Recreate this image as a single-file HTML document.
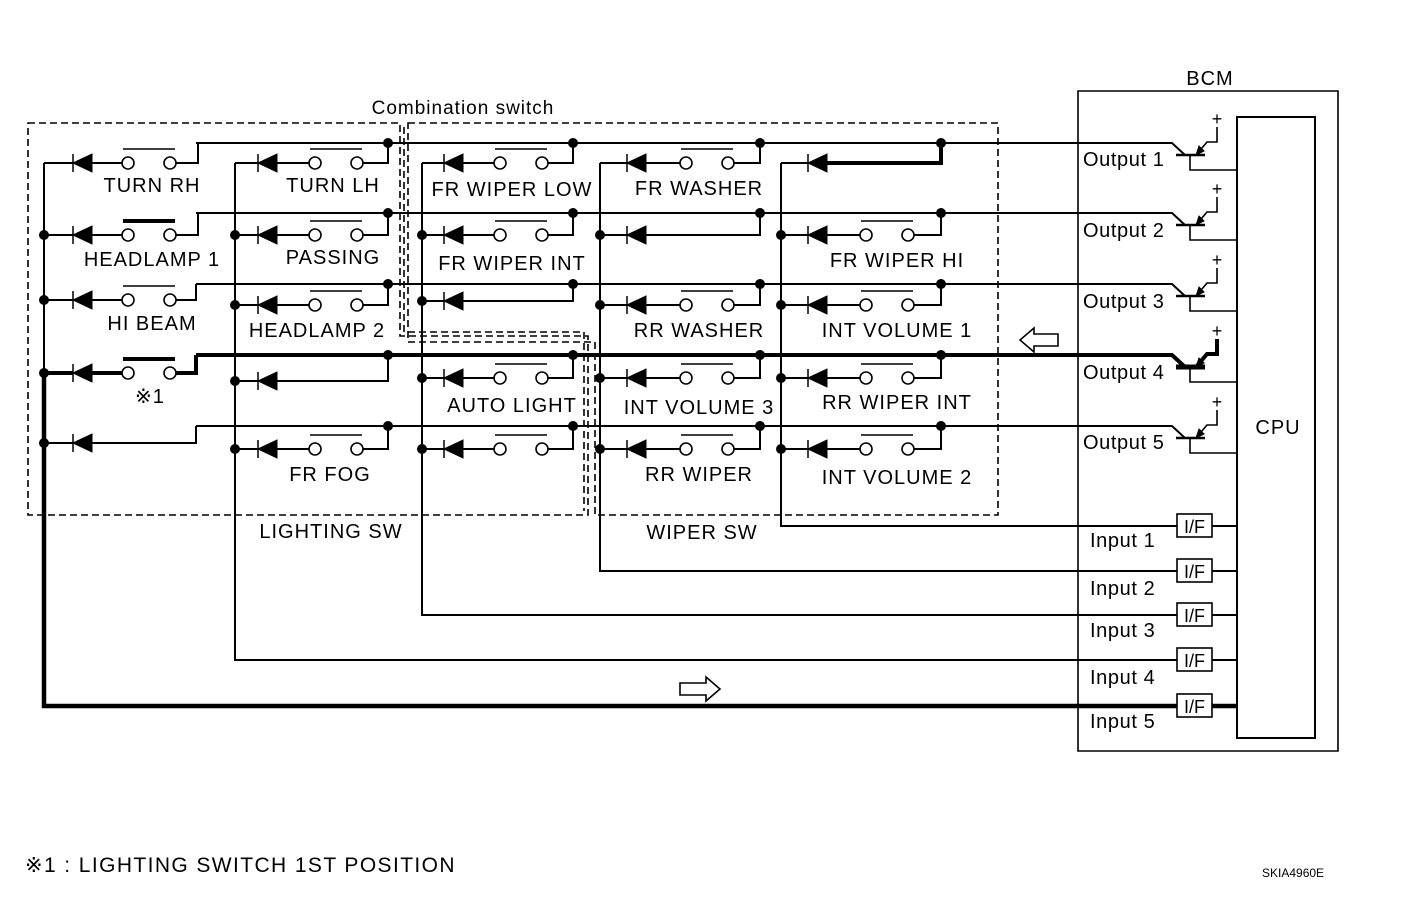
<!DOCTYPE html>
<html><head><meta charset="utf-8"><style>
html,body{margin:0;padding:0;background:#fff;}
svg{display:block;font-family:"Liberation Sans",sans-serif;}
</style></head><body>
<svg id="s" width="1408" height="902" viewBox="0 0 1408 902" xmlns="http://www.w3.org/2000/svg">
<g fill="none" stroke="#000" stroke-width="1.6" stroke-dasharray="7,4">
<path d="M28,123 H400 V336 H588 V515 H28 Z"/>
<path d="M404,127 V332 H584 V511"/>
<path d="M408,123 H998 V515 H595 V342 H408 Z"/>
</g>
<g id="w" stroke="#000" fill="none" stroke-width="2"></g>
<g font-size="20" fill="#000" text-anchor="middle" letter-spacing="1">
<text x="463" y="114" font-size="19">Combination switch</text>
<text x="1210" y="85">BCM</text>
<text x="1278" y="434">CPU</text>
<text x="152" y="192">TURN RH</text>
<text x="152" y="266">HEADLAMP 1</text>
<text x="152" y="330">HI BEAM</text>
<text x="150" y="403">※1</text>
<text x="333" y="192">TURN LH</text>
<text x="333" y="264">PASSING</text>
<text x="317" y="337">HEADLAMP 2</text>
<text x="330" y="481">FR FOG</text>
<text x="512" y="196">FR WIPER LOW</text>
<text x="512" y="270">FR WIPER INT</text>
<text x="512" y="412">AUTO LIGHT</text>
<text x="699" y="195">FR WASHER</text>
<text x="699" y="337">RR WASHER</text>
<text x="699" y="414">INT VOLUME 3</text>
<text x="699" y="481">RR WIPER</text>
<text x="897" y="267">FR WIPER HI</text>
<text x="897" y="337">INT VOLUME 1</text>
<text x="897" y="409">RR WIPER INT</text>
<text x="897" y="484">INT VOLUME 2</text>
<text x="331" y="538">LIGHTING SW</text>
<text x="702" y="539">WIPER SW</text>
</g>
<g font-size="20" fill="#000" letter-spacing="0.6">
<text x="1083" y="166">Output 1</text>
<text x="1083" y="237">Output 2</text>
<text x="1083" y="308">Output 3</text>
<text x="1083" y="379">Output 4</text>
<text x="1083" y="449">Output 5</text>
<text x="1090" y="547">Input 1</text>
<text x="1090" y="595">Input 2</text>
<text x="1090" y="637">Input 3</text>
<text x="1090" y="684">Input 4</text>
<text x="1090" y="728">Input 5</text>
<text x="25" y="872" font-size="21" letter-spacing="1.4">※1 : LIGHTING SWITCH 1ST POSITION</text>
<text x="1262" y="877" font-size="12" letter-spacing="0">SKIA4960E</text>
</g>
</svg>
<script>
var g=document.getElementById('w'),NS='http://www.w3.org/2000/svg';
function el(t,a){var e=document.createElementNS(NS,t);for(var k in a)e.setAttribute(k,a[k]);g.appendChild(e);return e;}
function P(d,w,f){el('path',{d:d,'stroke-width':w||2,fill:f||'none'});}
function dot(x,y){el('circle',{cx:x,cy:y,r:5,fill:'#000',stroke:'none'});}
var outs=[143,213,284,355,426];
outs.forEach(function(y,i){var w=i==3?4:2;P('M196,'+y+' H1172 L1185,'+(y+12),w);
 P('M1176,'+(y+12)+' H1205',i==3?5:2.5);
 P('M1190,'+(y+12)+' V'+(y+27)+' H1237',1.6);
 P('M1196,'+(y+12)+' L1207,'+(y-1)+' H1217 V'+(y-16),i==3?4:1.6);
 el('path',{d:'M1196,'+(y+12)+' l3,-9 l5,5 z',fill:'#000',stroke:'#000','stroke-width':1});
 var t=document.createElementNS(NS,'text');t.setAttribute('x',1217);t.setAttribute('y',y-18);t.setAttribute('text-anchor','middle');t.setAttribute('font-size','18');t.setAttribute('stroke','none');t.setAttribute('fill','#000');t.textContent='+';g.appendChild(t);
});
P('M1078,91 H1338 V751 H1078 Z',1.6);
P('M1237,117 H1315 V738 H1237 Z',2);
var cols=[
 {b:44,d:73,c:128,j:198,rows:[[163,1,0],[235,1,1],[300,1,0],[373,1,1],[443,0,0]],bot:706},
 {b:235,d:258,c:315,j:388,rows:[[163,1,0],[235,1,0],[305,1,0],[381,0,0],[449,1,0]],bot:660},
 {b:422,d:444,c:500,j:573,rows:[[163,1,0],[235,1,0],[301,0,0],[378,1,0],[449,1,0]],bot:615},
 {b:600,d:627,c:686,j:760,rows:[[163,1,0],[235,0,0],[305,1,0],[378,1,0],[449,1,0]],bot:571},
 {b:781,d:808,c:866,j:941,rows:[[163,0,0],[235,1,0],[305,1,0],[378,1,0],[449,1,0]],bot:526}
];
cols.forEach(function(c,ci){
 if(ci>0)P('M'+c.b+',163 V'+c.bot+' H1237',2);
 if(ci==0){P('M44,163 V373',2);P('M44,373 V706 H1237',4.5);}
 c.rows.forEach(function(r,ri){
  var y=r[0],yo=outs[ri];
  var th=(ci==0&&ri==3)?4:2, th2=(ci==0&&ri==3)||(ci==4&&ri==0)?4:2;
  var jx=ci==0?(ri<2?198:196):c.j;
  P('M'+c.b+','+y+' H'+c.d,th);
  el('path',{d:'M'+c.d+','+y+' L'+(c.d+19)+','+(y-9)+' V'+(y+9)+' Z',fill:'#000',stroke:'#000','stroke-width':1});
  P('M'+c.d+','+(y-9)+' V'+(y+9),1.5);
  if(r[1]){
   P('M'+(c.d+19)+','+y+' H'+(c.c-6),th2);
   el('circle',{cx:c.c,cy:y,r:6,fill:'#fff','stroke-width':1.6});
   el('circle',{cx:c.c+42,cy:y,r:6,fill:'#fff','stroke-width':1.6});
   P('M'+(c.c-5)+','+(y-14)+' H'+(c.c+47),r[2]?4:1.6);
   P('M'+(c.c+48)+','+y+' H'+jx+' V'+yo,th2);
  } else {
   P('M'+(c.d+19)+','+y+' H'+jx+' V'+yo,th2);
  }
  if(ci>0) dot(jx,yo);
  if(ri>0) dot(c.b,y);
 });
});
[526,571,615,660,706].forEach(function(y){
 el('rect',{x:1177,y:y-12,width:35,height:23,fill:'#fff','stroke-width':1.6});
 var t=document.createElementNS(NS,'text');t.setAttribute('x',1194.5);t.setAttribute('y',y+7);t.setAttribute('text-anchor','middle');t.setAttribute('font-size','18');t.setAttribute('stroke','none');t.setAttribute('fill','#000');t.textContent='I/F';g.appendChild(t);
});
P('M1058,334 H1034 V328 L1020,340 L1034,352 V346 H1058 Z',1.6,'#fff');
P('M680,683 H706 V677 L720,689 L706,701 V695 H680 Z',1.6,'#fff');
</script>
</body></html>
